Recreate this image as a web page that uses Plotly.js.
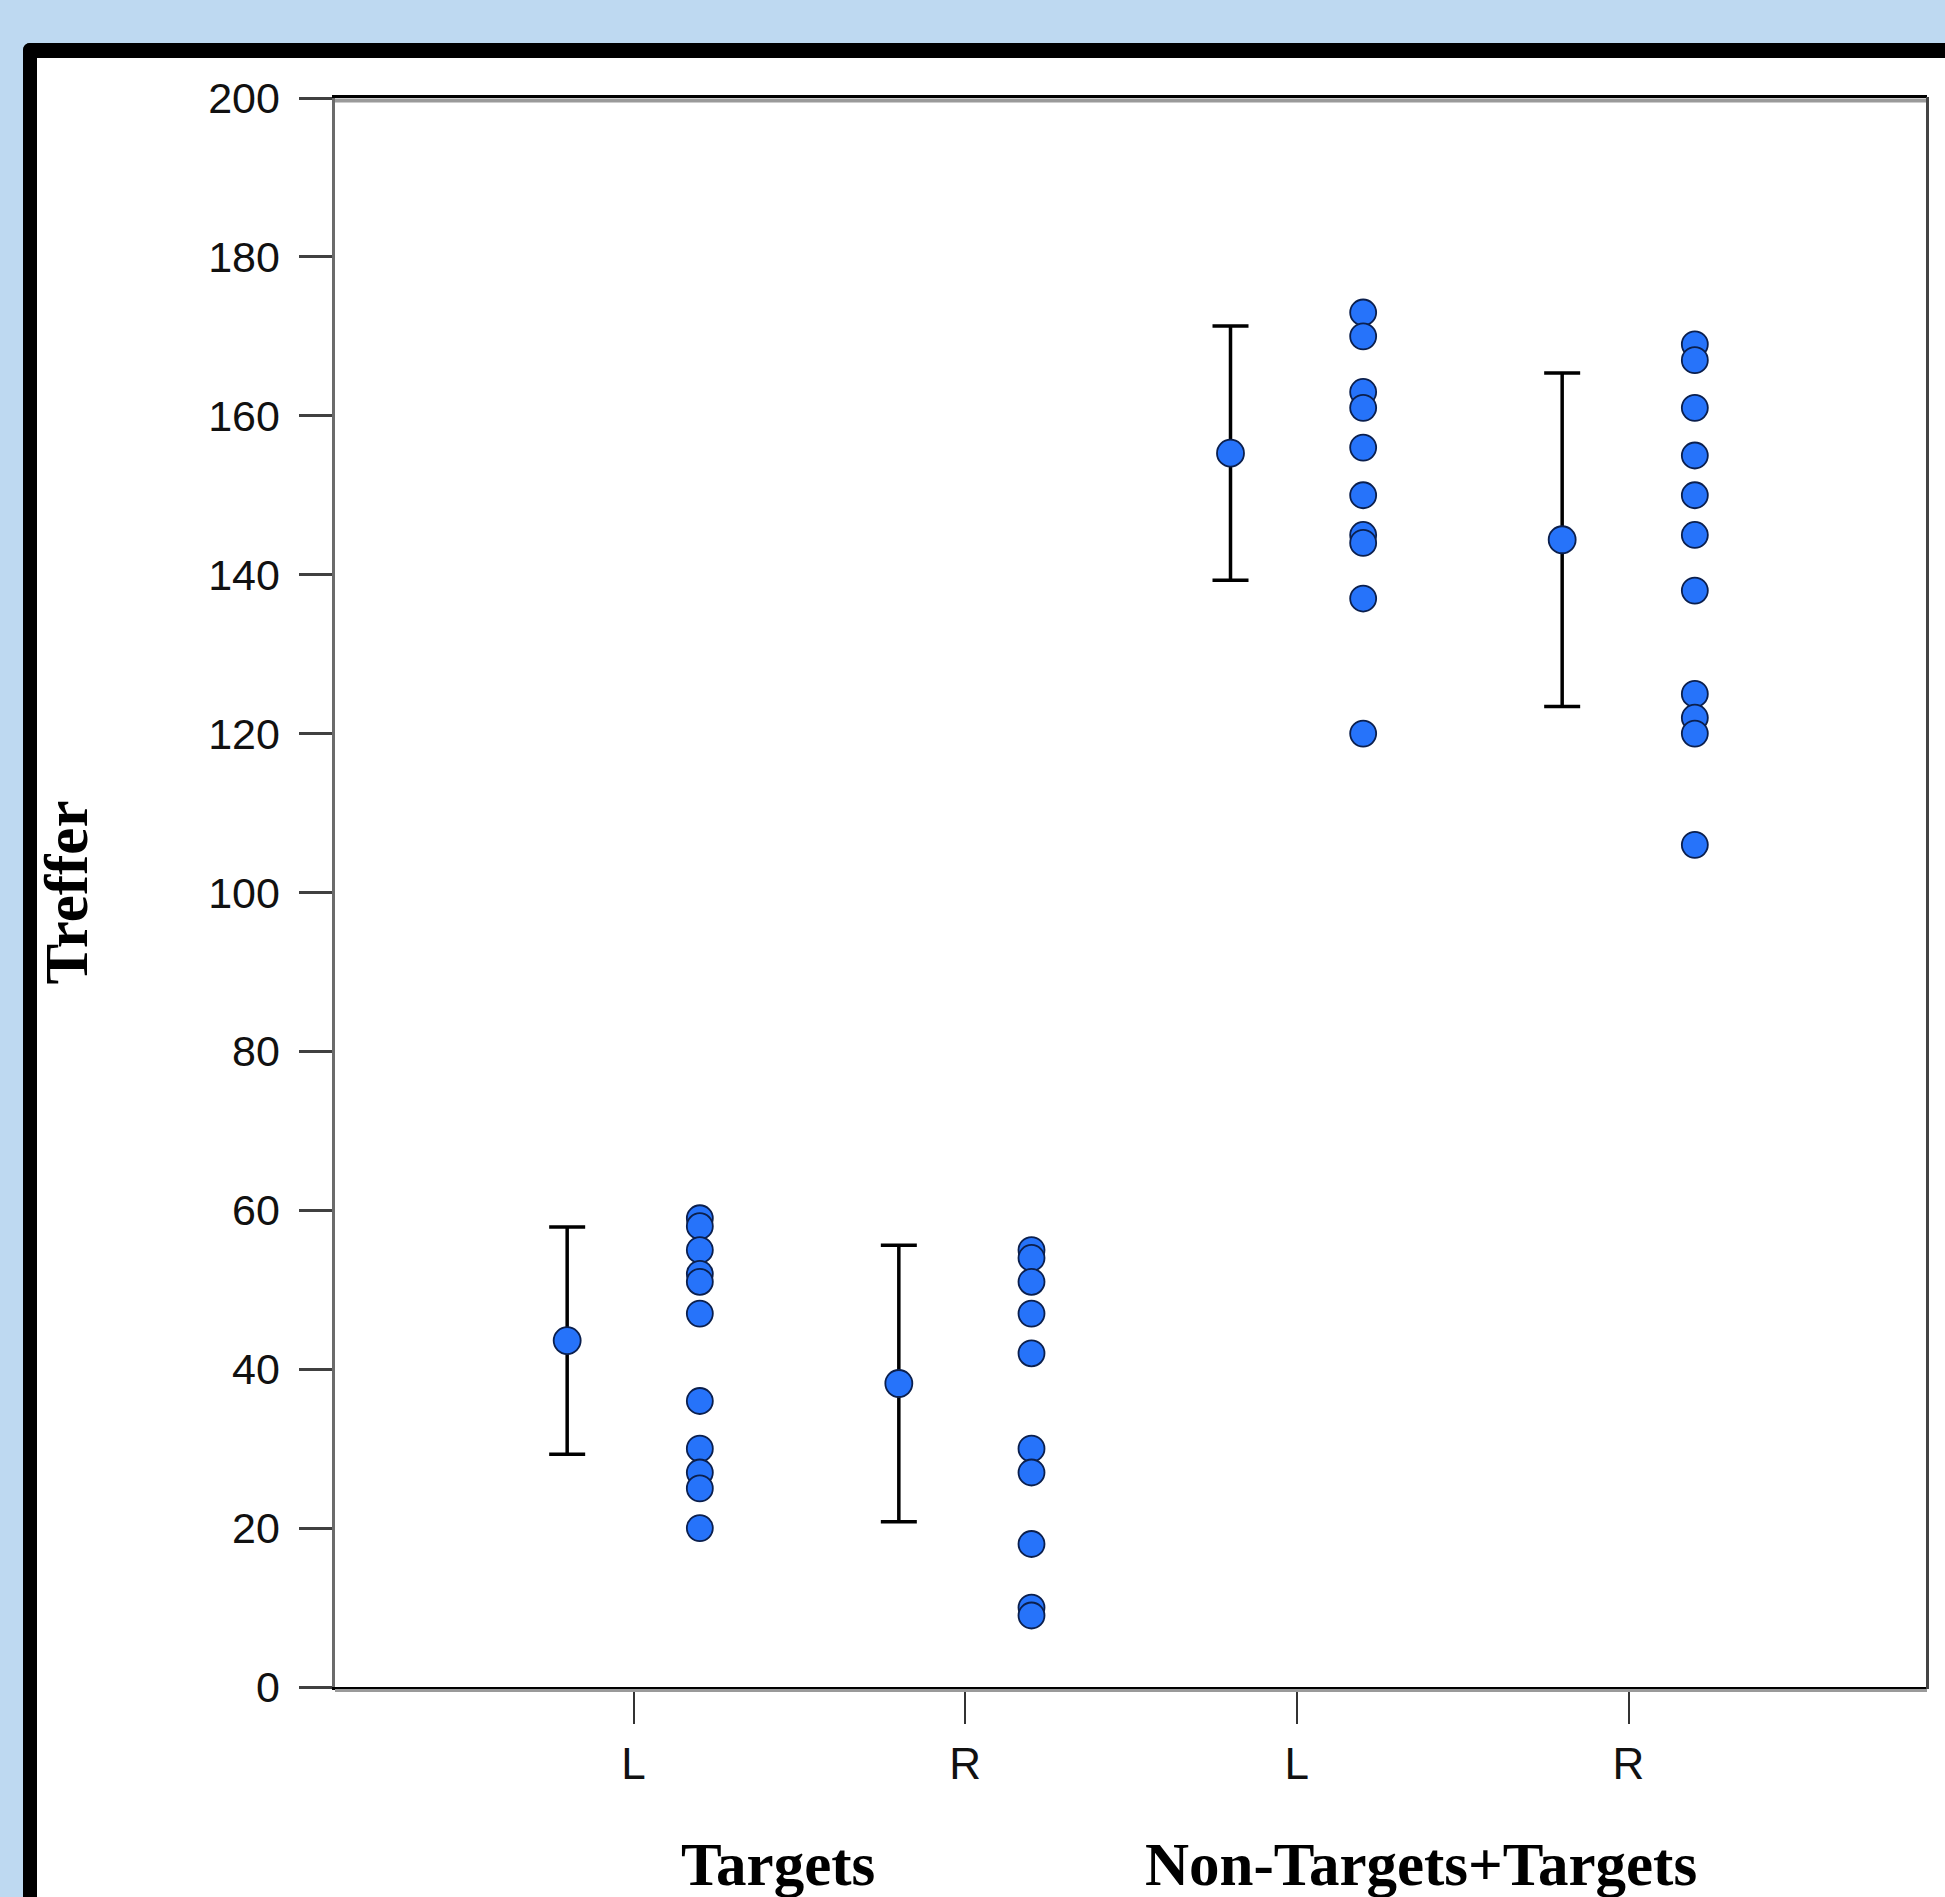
<!DOCTYPE html>
<html>
<head>
<meta charset="utf-8">
<script src="https://cdn.plot.ly/plotly-3.0.1.min.js"></script>
<style>
  html, body { margin:0; padding:0; width:1945px; height:1897px; overflow:hidden; background:#BED9F1; }
  #frame { position:absolute; left:23px; top:43px; width:2100px; height:2100px; background:#ffffff;
           border-left:14px solid #000; border-top:15px solid #000; border-top-left-radius:7px; }
  #chart { position:absolute; left:0; top:0; width:1945px; height:1897px; }
</style>
</head>
<body>
<div id="frame"></div>
<div id="chart"></div>
<script>
// ---- data ----
const groupTitles = ['Targets', 'Non-Targets+Targets'];
const tickLabels  = ['L', 'R', 'L', 'R'];
const means       = [43.6, 38.2, 155.3, 144.4];
const errors      = [14.3, 17.4, 16.0, 21.0];
const targetsL    = [59, 58, 55, 52, 51, 47, 36, 30, 27, 25, 20];
const targetsR    = [55, 54, 51, 47, 42, 30, 27, 18, 10, 9];
const nonTargetsL = [173, 170, 163, 161, 156, 150, 145, 144, 137, 120];
const nonTargetsR = [169, 167, 161, 155, 150, 145, 138, 125, 122, 120, 106];
const yTicks      = [0, 20, 40, 60, 80, 100, 120, 140, 160, 180, 200];

const seriesPoints = [targetsL, targetsR, nonTargetsL, nonTargetsR];
const cats = tickLabels.map((_, i) => i + 1);

const blue = '#2673FA';
const edge = '#0B1F4D';

const traces = [];
// mean +/- error
traces.push({
  type: 'scatter', mode: 'markers',
  x: cats.map(c => c - 0.2), y: means,
  error_y: { type: 'data', array: errors, visible: true, color: '#000', thickness: 3.5, width: 18 },
  marker: { color: blue, size: 27, line: { color: edge, width: 1.8 } },
  showlegend: false, hoverinfo: 'skip'
});
// individual points
seriesPoints.forEach((pts, i) => {
  traces.push({
    type: 'scatter', mode: 'markers',
    x: pts.map(() => cats[i] + 0.2), y: pts,
    marker: { color: blue, size: 26, line: { color: edge, width: 1.8 } },
    showlegend: false, hoverinfo: 'skip'
  });
});

const L = 335, R = 1927, T = 98, B = 1687;
const W = 1945, H = 1897;
const pw = R - L, ph = B - T;
const px = v => (v - L) / pw;
const py = v => (B - v) / ph;

const layout = {
  width: W, height: H,
  margin: { l: L, r: W - R, t: T, b: H - B, pad: 0 },
  paper_bgcolor: 'rgba(0,0,0,0)',
  plot_bgcolor: 'rgba(0,0,0,0)',
  font: { family: 'Liberation Sans, Arial, sans-serif', color: '#111' },
  xaxis: {
    range: [0.1, 4.9], tickmode: 'array', tickvals: cats, ticktext: tickLabels,
    showgrid: false, zeroline: false,
    showline: true, linecolor: '#000', linewidth: 3, mirror: true,
    ticks: 'outside', ticklen: 34, tickwidth: 2, tickcolor: '#333',
    ticklabelstandoff: 2,
    tickfont: { size: 44, family: 'Liberation Sans, Arial, sans-serif', color: '#111' }
  },
  yaxis: {
    range: [0, 200], tickmode: 'array', tickvals: yTicks,
    showgrid: false, zeroline: false,
    showline: true, linecolor: '#6b6b6b', linewidth: 3.5, mirror: false,
    ticks: 'outside', ticklen: 33, tickwidth: 3, tickcolor: '#404040',
    ticklabelstandoff: 10,
    tickfont: { size: 43, family: 'Liberation Sans, Arial, sans-serif', color: '#111' },
    title: { text: 'Treffer', standoff: 102,
             font: { size: 61, family: 'Liberation Serif, Times New Roman, serif', weight: 'bold', color: '#000' } }
  },
  shapes: [
    { type: 'line', xref: 'paper', yref: 'paper', x0: 0, x1: 1, y0: py(100.5), y1: py(100.5), line: { color: '#9a9a9a', width: 4 } },
    { type: 'line', xref: 'paper', yref: 'paper', x0: 0, x1: 1, y0: py(1690.5), y1: py(1690.5), line: { color: '#9a9a9a', width: 3 } },
    { type: 'line', xref: 'paper', yref: 'paper', x0: px(1927.5), x1: px(1927.5), y0: py(B + 2), y1: py(T - 1), line: { color: '#444', width: 3 } }
  ],
  annotations: [
    { text: '<b>' + groupTitles[0] + '</b>', xref: 'paper', yref: 'paper', x: px(778), y: py(1864), xanchor: 'center', yanchor: 'middle', showarrow: false,
      font: { size: 61, family: 'Liberation Serif, Times New Roman, serif', color: '#000' } },
    { text: '<b>' + groupTitles[1] + '</b>', xref: 'paper', yref: 'paper', x: px(1421), y: py(1864), xanchor: 'center', yanchor: 'middle', showarrow: false,
      font: { size: 61, family: 'Liberation Serif, Times New Roman, serif', color: '#000' } }
  ]
};

Plotly.newPlot('chart', traces, layout, { displayModeBar: false, staticPlot: true });
</script>
</body>
</html>
